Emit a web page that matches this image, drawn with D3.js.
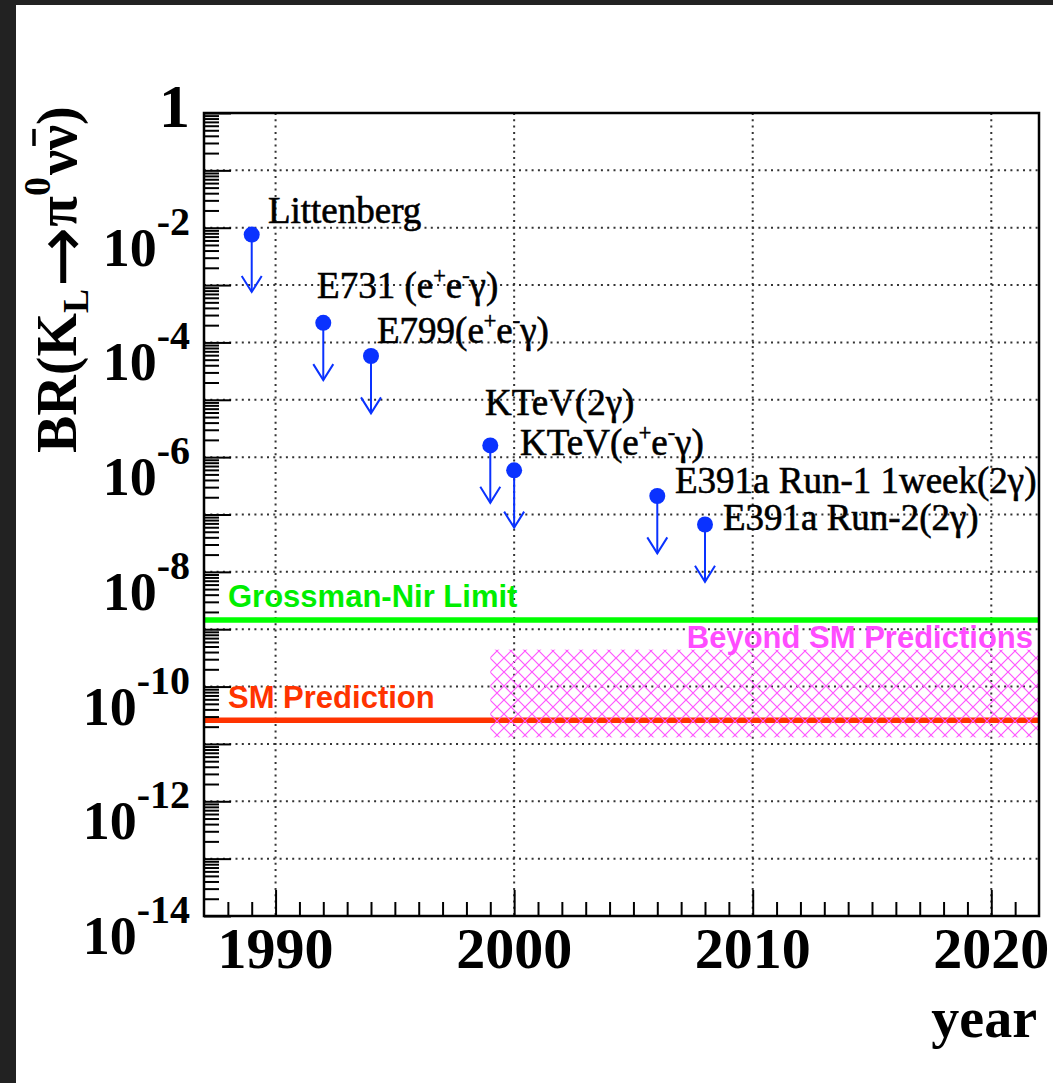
<!DOCTYPE html>
<html>
<head>
<meta charset="utf-8">
<script src="https://cdn.jsdelivr.net/npm/d3@7"></script>
<style>
  body {margin: 0; background: #fff;}
  svg {display: block;}
</style>
</head>
<body>
<div id="chart"></div>
<script>
// measured upper limits, BR(K_L -> pi0 nu nubar), 90% CL
const years      = [1989, 1992, 1994, 1999, 2000, 2006, 2008];
const limits     = [7.6e-3, 2.2e-4, 5.8e-5, 1.6e-6, 5.9e-7, 2.1e-7, 6.7e-8];
const names      = ['Littenberg', 'E731 (e^+e^-γ)', 'E799(e^+e^-γ)', 'KTeV(2γ)',
                    'KTeV(e^+e^-γ)', 'E391a Run-1 1week(2γ)', 'E391a Run-2(2γ)'];
// where each experiment's label sits, in data units
const nameYears  = [1989.68, 1991.74, 1994.25, 1998.78, 2000.25, 2006.74, 2008.75];
const nameValues = [1.21e-2, 5.95e-4, 9.8e-5, 5.4e-6, 1.09e-6, 2.37e-7, 5.37e-8];

const grossmanNir  = 1.45e-9;
const smPrediction = 2.6e-11;
const beyondYears  = [1999, 2022];
const beyondRange  = [1.3e-11, 4.4e-10];

const xDomain    = [1987, 2022];
const xMajor     = [1990, 2000, 2010, 2020];
const yExponents = [-14, -13, -12, -11, -10, -9, -8, -7, -6, -5, -4, -3, -2, -1, 0];
const yLabelled  = [-14, -12, -10, -8, -6, -4, -2, 0];

const W = 1053, H = 1083;
const margin = {top: 113, right: 14, bottom: 167, left: 204};
const width  = W - margin.left - margin.right;
const height = H - margin.top - margin.bottom;
const pL = margin.left, pT = margin.top, pR = pL + width, pB = pT + height;

const serif = '"Liberation Serif", "Times New Roman", serif';
const sans  = '"Liberation Sans", Arial, sans-serif';
const blue  = '#0a32ff';

const svg = d3.select('#chart').append('svg')
  .attr('width', W)
  .attr('height', H);

// dark frame of the screenshot
svg.append('rect').attr('width', W).attr('height', H).attr('fill', '#fff');
svg.append('rect').attr('width', W).attr('height', 5).attr('fill', '#222');
svg.append('rect').attr('width', 16).attr('height', H).attr('fill', '#222');

const x = d3.scaleLinear().domain(xDomain).range([pL, pR]);
const y = d3.scaleLog().domain([1e-14, 1]).range([pB, pT]);

const defs = svg.append('defs');
defs.append('clipPath').attr('id', 'clip')
  .append('rect')
  .attr('x', pL).attr('y', pT)
  .attr('width', width).attr('height', height);

const hs = 14;
defs.append('pattern')
  .attr('id', 'hatch')
  .attr('patternUnits', 'userSpaceOnUse')
  .attr('width', hs).attr('height', hs)
  .append('path')
  .attr('d', `M0,0L${hs},${hs}M${hs},0L0,${hs}`)
  .attr('stroke', '#ff55ff')
  .attr('stroke-width', 1.2)
  .attr('fill', 'none');

// dotted grid
const grid = svg.append('g')
  .attr('stroke', '#333')
  .attr('stroke-width', 2)
  .attr('stroke-dasharray', '2 4.3');

grid.selectAll('line.gx')
  .data(xMajor)
  .join('line')
  .attr('class', 'gx')
  .attr('x1', d => x(d)).attr('x2', d => x(d))
  .attr('y1', pT).attr('y2', pB);

grid.selectAll('line.gy')
  .data(yExponents.filter(e => e > -14 && e < 0))
  .join('line')
  .attr('class', 'gy')
  .attr('x1', pL).attr('x2', pR)
  .attr('y1', e => y(Math.pow(10, e))).attr('y2', e => y(Math.pow(10, e)));

const plot = svg.append('g').attr('clip-path', 'url(#clip)');

// theory lines
plot.append('line')
  .attr('x1', pL).attr('x2', pR)
  .attr('y1', y(grossmanNir)).attr('y2', y(grossmanNir))
  .attr('stroke', '#00ff00')
  .attr('stroke-width', 5.5);

plot.append('line')
  .attr('x1', pL).attr('x2', pR)
  .attr('y1', y(smPrediction)).attr('y2', y(smPrediction))
  .attr('stroke', '#ff3300')
  .attr('stroke-width', 5.5);

// beyond SM band
plot.append('rect')
  .attr('x', x(beyondYears[0]))
  .attr('y', y(beyondRange[1]))
  .attr('width', x(beyondYears[1]) - x(beyondYears[0]))
  .attr('height', y(beyondRange[0]) - y(beyondRange[1]))
  .attr('fill', 'url(#hatch)');

svg.append('text')
  .attr('x', pL + 24)
  .attr('y', y(grossmanNir) - 13)
  .attr('font-family', sans).attr('font-weight', 'bold').attr('font-size', 31)
  .attr('fill', '#00ee00')
  .text('Grossman-Nir Limit');

svg.append('text')
  .attr('x', pL + 24)
  .attr('y', y(smPrediction) - 12)
  .attr('font-family', sans).attr('font-weight', 'bold').attr('font-size', 31)
  .attr('fill', '#ff3300')
  .text('SM Prediction');

svg.append('text')
  .attr('x', pR - 6)
  .attr('y', y(beyondRange[1]) - 2)
  .attr('text-anchor', 'end')
  .attr('font-family', sans).attr('font-weight', 'bold').attr('font-size', 31)
  .attr('fill', '#ff4cff')
  .text('Beyond SM Predictions');

// upper limits: dot plus downward arrow to a tenth of the value
const pts = svg.append('g');
years.forEach((yr, i) => {
  const cx = x(yr), cy = y(limits[i]), tip = y(limits[i] / 10);
  pts.append('line')
    .attr('x1', cx).attr('x2', cx)
    .attr('y1', cy).attr('y2', tip)
    .attr('stroke', blue).attr('stroke-width', 2);
  pts.append('polyline')
    .attr('points', `${cx - 10},${tip - 16} ${cx},${tip} ${cx + 10},${tip - 16}`)
    .attr('fill', 'none')
    .attr('stroke', blue).attr('stroke-width', 2);
  pts.append('circle')
    .attr('cx', cx).attr('cy', cy).attr('r', 8)
    .attr('fill', blue);
});

// experiment labels, "^c" marks a superscript character
function addRich(sel, str, size) {
  let back = 0;
  str.split(/(\^.)/).forEach(part => {
    if (!part) return;
    if (part[0] === '^') {
      sel.append('tspan')
        .attr('dy', back - 15).attr('font-size', size * 0.6)
        .text(part[1]);
      back = 15;
    } else {
      sel.append('tspan').attr('dy', back).text(part);
      back = 0;
    }
  });
}

names.forEach((n, i) => {
  const t = svg.append('text')
    .attr('x', x(nameYears[i]))
    .attr('y', y(nameValues[i]))
    .attr('font-family', serif)
    .attr('font-size', 37)
    .attr('fill', '#000')
    .attr('stroke', '#000').attr('stroke-width', 0.6);
  addRich(t, n, 37);
});

// axes: ticks drawn inside the frame
function tickAxis(axis, tr) {
  const g = svg.append('g').attr('transform', tr).call(axis);
  g.select('.domain').remove();
  g.selectAll('line').attr('stroke', '#000').attr('stroke-width', 2);
  return g;
}

const yMinor = [];
yExponents.slice(0, -1).forEach(e => {
  [2, 3, 4, 5, 6, 7, 8, 9].forEach(k => yMinor.push(k * Math.pow(10, e)));
});
const yMajor = yExponents.map(e => Math.pow(10, e));

tickAxis(d3.axisRight(y).tickValues(yMajor).tickSize(27).tickFormat(''), `translate(${pL},0)`);
tickAxis(d3.axisRight(y).tickValues(yMinor).tickSize(15).tickFormat(''), `translate(${pL},0)`);

const xMinor = d3.range(xDomain[0] + 1, xDomain[1]).filter(v => xMajor.indexOf(v) < 0);
tickAxis(d3.axisTop(x).tickValues(xMajor).tickSize(26).tickFormat(''), `translate(0,${pB})`);
tickAxis(d3.axisTop(x).tickValues(xMinor).tickSize(14).tickFormat(''), `translate(0,${pB})`);

// frame
svg.append('rect')
  .attr('x', pL).attr('y', pT)
  .attr('width', width).attr('height', height)
  .attr('fill', 'none')
  .attr('stroke', '#000').attr('stroke-width', 2.5);

// x tick labels
svg.selectAll('text.xl')
  .data(xMajor)
  .join('text')
  .attr('class', 'xl')
  .attr('x', d => x(d))
  .attr('y', pB + 52)
  .attr('text-anchor', 'middle')
  .attr('font-family', serif).attr('font-weight', 'bold').attr('font-size', 58)
  .text(d => d);

// y tick labels
yLabelled.forEach(e => {
  const ty = y(Math.pow(10, e));
  const t = svg.append('text')
    .attr('x', pL - 14)
    .attr('text-anchor', 'end')
    .attr('font-family', serif).attr('font-weight', 'bold');
  if (e === 0) {
    t.attr('y', ty + 14).attr('font-size', 62).text('1');
  } else {
    t.attr('y', ty + 38).attr('font-size', 54);
    t.append('tspan').text('10');
    t.append('tspan').attr('dy', -31).attr('font-size', 40).text('-' + (-e));
  }
});

// axis titles
svg.append('text')
  .attr('x', 1037).attr('y', 1037)
  .attr('text-anchor', 'end')
  .attr('font-family', serif).attr('font-weight', 'bold').attr('font-size', 56)
  .text('year');

const ytg = svg.append('g').attr('transform', 'translate(76,453) rotate(-90)');
const yt = ytg.append('text')
  .attr('font-family', serif).attr('font-weight', 'bold').attr('font-size', 56);
yt.append('tspan').text('BR(K');
yt.append('tspan').attr('dy', 12).attr('font-size', 36).text('L');
yt.append('tspan').attr('dy', -2).attr('dx', 2)
  .attr('font-family', '"DejaVu Sans", sans-serif').attr('font-weight', 'normal')
  .attr('font-size', 72).text('→');
yt.append('tspan').attr('dy', -10).text('π');
yt.append('tspan').attr('dy', -26).attr('font-size', 38).text('0');
yt.append('tspan').attr('dy', 26).attr('dx', 2).text('νν)');
// bar over the antineutrino
const nb = yt.node().getExtentOfChar(9);
ytg.append('line')
  .attr('x1', nb.x + 4).attr('x2', nb.x + nb.width - 4)
  .attr('y1', -42).attr('y2', -42)
  .attr('stroke', '#000').attr('stroke-width', 3.5);
</script>
</body>
</html>
